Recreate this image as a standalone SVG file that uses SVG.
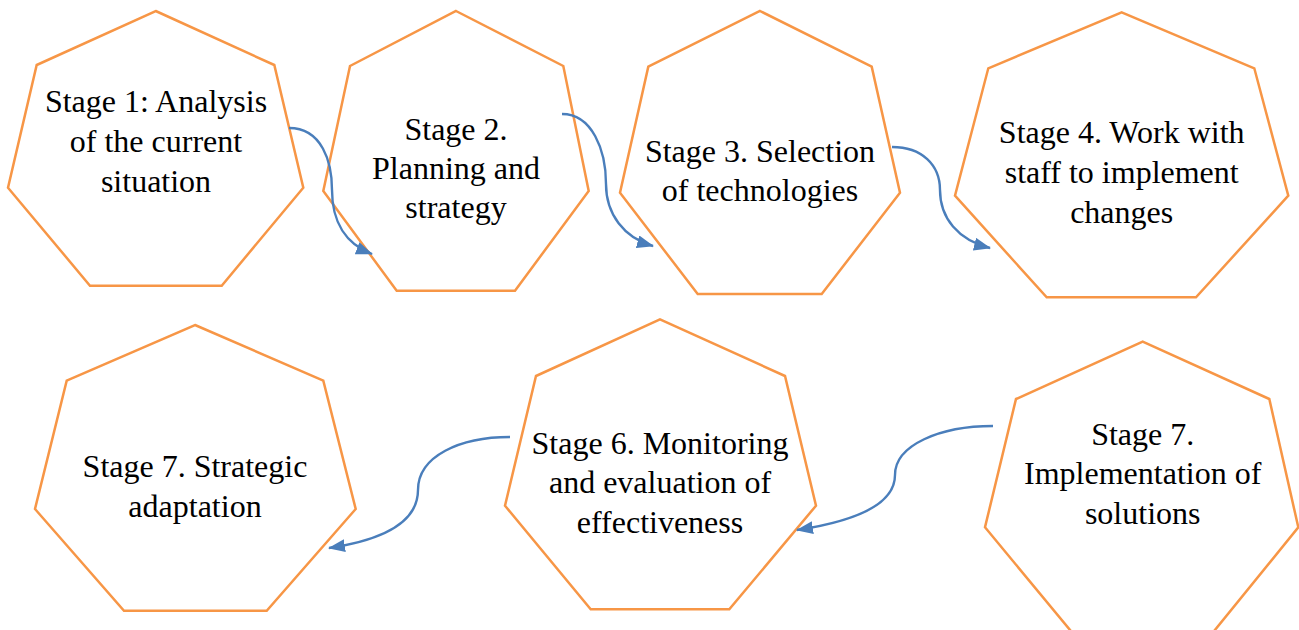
<svg xmlns="http://www.w3.org/2000/svg" width="1299" height="630" viewBox="0 0 1299 630">
<style>
.hept{fill:#FFFFFF;stroke:#F79646;stroke-width:2.5;stroke-linejoin:miter}
.lbl{font-family:'Liberation Serif','Times New Roman',serif;font-size:32px;fill:#000000;text-anchor:middle}
.conn{fill:none;stroke:#4A7EBB;stroke-width:2.4}
</style>
<defs>
<marker id="arr" viewBox="0 0 17 13" refX="16" refY="6.5" markerWidth="17" markerHeight="13" markerUnits="userSpaceOnUse" orient="auto">
<path d="M0,0 L17,6.5 L0,13 Z" fill="#4A7EBB"/>
</marker>
</defs>
<rect width="1299" height="630" fill="#FFFFFF"/>
<g id="node1">
<polygon class="hept" points="155.7,11 274.3,65 303.3,187.7 221.7,285.7 90,285.7 8,187.7 36.7,65"/>
<text class="lbl"><tspan x="156" y="112">Stage 1: Analysis</tspan><tspan x="156" y="152">of the current</tspan><tspan x="156" y="192">situation</tspan></text>
</g>
<g id="node2">
<polygon class="hept" points="456,11 563.3,66 588.7,191 515,290.7 396.7,290.7 323.3,191 350,66"/>
<text class="lbl"><tspan x="456" y="140">Stage 2.</tspan><tspan x="456" y="179">Planning and</tspan><tspan x="456" y="218">strategy</tspan></text>
</g>
<g id="node3">
<polygon class="hept" points="760,11 871.7,66.7 900,192.7 821.7,294 697.7,294 620,192.7 648.3,66.7"/>
<text class="lbl"><tspan x="760" y="162">Stage 3. Selection</tspan><tspan x="760" y="201">of technologies</tspan></text>
</g>
<g id="node4">
<polygon class="hept" points="1121.7,12.3 1254.3,68.3 1288.3,195.7 1196,297.3 1046.7,297.3 955,195.7 988.3,68.3"/>
<text class="lbl"><tspan x="1121.7" y="143">Stage 4. Work with</tspan><tspan x="1121.7" y="183">staff to implement</tspan><tspan x="1121.7" y="223">changes</tspan></text>
</g>
<g id="node5">
<polygon class="hept" points="195,325 323.3,380.7 355.7,509 266.7,610.7 124,610.7 35,509 66.7,380.7"/>
<text class="lbl"><tspan x="195" y="477">Stage 7. Strategic</tspan><tspan x="195" y="517">adaptation</tspan></text>
</g>
<g id="node6">
<polygon class="hept" points="660,319.3 785,376 816,505.7 729.3,609.3 590.7,609.3 505,505.7 536,376"/>
<text class="lbl"><tspan x="660" y="454">Stage 6. Monitoring</tspan><tspan x="660" y="493">and evaluation of</tspan><tspan x="660" y="533">effectiveness</tspan></text>
</g>
<g id="node7">
<polygon class="hept" points="1142.7,341.7 1269.3,399 1298.3,527.3 1213.3,632 1071.7,632 985,527.3 1016,399"/>
<text class="lbl"><tspan x="1142.7" y="445">Stage 7.</tspan><tspan x="1142.7" y="484">Implementation of</tspan><tspan x="1142.7" y="524">solutions</tspan></text>
</g>
<g id="connectors">
<path class="conn" marker-end="url(#arr)" d="M289,128 C322,128 332,162 332,190 C332,222 346,244 372,254"/>
<path class="conn" marker-end="url(#arr)" d="M562,114 C592,114 606,150 606,184 C606,214 624,238 653,246"/>
<path class="conn" marker-end="url(#arr)" d="M892,147 C922,147 940,165 940,190 C940,218 958,240 990,248"/>
<path class="conn" marker-end="url(#arr)" d="M993,426 C940,426 895,445 895,475 C895,506 850,522 797,530"/>
<path class="conn" marker-end="url(#arr)" d="M510,437 C460,437 418,456 418,490 C418,525 376,541 329,548"/>
</g>
</svg>
